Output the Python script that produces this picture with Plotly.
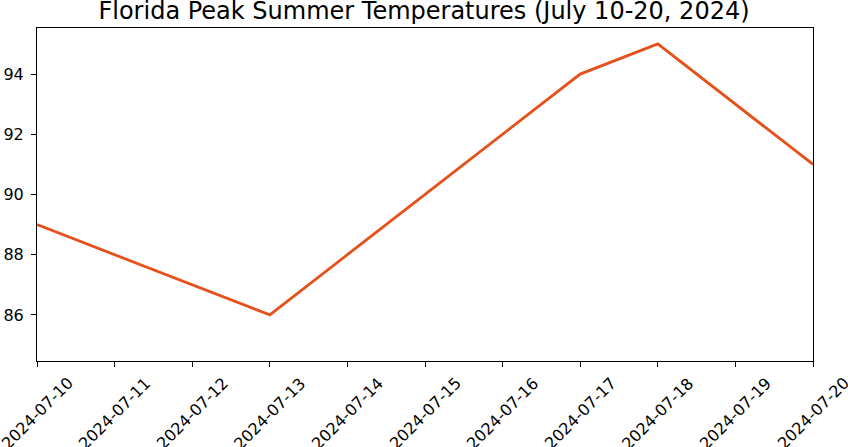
import plotly.graph_objects as go

dates = ["2024-07-10", "2024-07-11", "2024-07-12", "2024-07-13", "2024-07-14", "2024-07-15",
         "2024-07-16", "2024-07-17", "2024-07-18", "2024-07-19", "2024-07-20"]
temps = [89, 88, 87, 86, 88, 90, 92, 94, 95, 93, 91]
y_ticks = [86, 88, 90, 92, 94]

fig = go.Figure()
fig.add_trace(go.Scatter(x=dates, y=temps, mode="lines",
                         line=dict(color="#e6501b", width=2.8), showlegend=False))

# matplotlib-style rotated labels, centred under each tick
for d in dates:
    fig.add_annotation(x=d, xref="x", y=0, yref="paper", text=d, showarrow=False,
                       textangle=-45, xanchor="center", yanchor="top", yshift=-10,
                       font=dict(family="DejaVu Sans", size=16, color="black"))

fig.update_layout(
    width=848, height=447,
    margin=dict(l=37, r=35, t=28, b=86),
    paper_bgcolor="white", plot_bgcolor="white",
    font=dict(family="DejaVu Sans", color="black"),
    title=dict(text="Florida Peak Summer Temperatures (July 10-20, 2024)",
               x=0.5, xanchor="center", y=0.977, yanchor="middle",
               font=dict(size=24, color="black")),
)
fig.update_xaxes(type="date", range=["2024-07-10", "2024-07-20"], dtick=86400000,
                 showticklabels=False, ticks="outside", ticklen=5, tickcolor="black",
                 showline=True, linecolor="black", linewidth=1, mirror=True,
                 showgrid=False, zeroline=False, automargin=False)
fig.update_yaxes(range=[84.47, 95.53], tickvals=y_ticks, ticks="outside", ticklen=5,
                 tickcolor="black", showline=True, linecolor="black", linewidth=1,
                 mirror=True, showgrid=False, zeroline=False, automargin=False,
                 ticklabelstandoff=4, tickfont=dict(size=16, color="black"))

fig.write_html("out.html", config={"displayModeBar": False},
               post_script="document.body.style.margin='0';")
